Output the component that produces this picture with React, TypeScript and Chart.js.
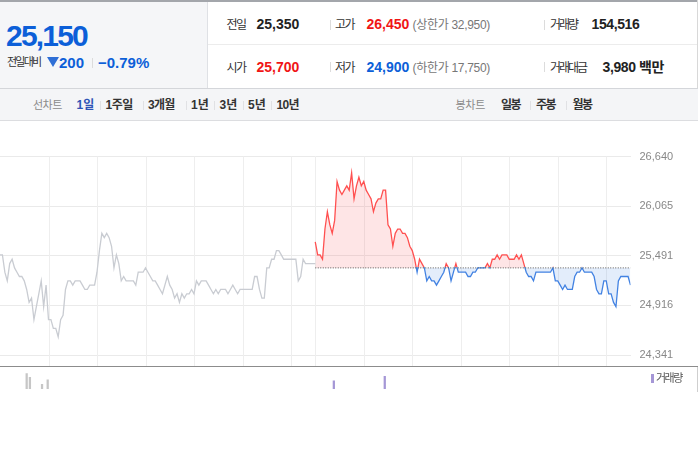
import React, { useEffect, useRef } from "react";
import { Chart, registerables } from "chart.js";

Chart.register(...registerables);

// ---------- data ----------
const prevClose = 25350;
const stepMinutes = 3; // sampling step of the price series
const sessionMinutes = 390; // 09:00 - 15:30

// previous session (grey), one value every 3 minutes from 09:00
const prevDayPrices = [
  25500, 25500, 25300, 25200, 25400, 25450, 25350, 25300, 25250, 25250,
  25200, 25100, 24950, 25000, 24750, 24900, 25050, 25200, 24900, 25150,
  24750, 24750, 24650, 24650, 24550, 24750, 24800, 25100, 25200, 25200,
  25150, 25200, 25200, 25200, 25150, 25100, 25100, 25150, 25150, 25150,
  25300, 25550, 25750, 25700, 25750, 25700, 25600, 25350, 25500, 25400,
  25200, 25250, 25200, 25200, 25200, 25200, 25150, 25300, 25300, 25300,
  25350, 25300, 25250, 25200, 25200, 25150, 25100, 25050, 25150, 25250,
  25150, 25100, 25000, 25050, 24950, 25050, 25000, 25050, 25050, 25100,
  25050, 25200, 25150, 25200, 25200, 25200, 25150, 25100, 25050, 25100,
  25050, 25100, 25100, 25100, 25050, 25100, 25150, 25100, 25050, 25100,
  25100, 25100, 25100, 25100, 25100, 25250, 25250, 25100, 25000, 25000,
  25350, 25350, 25450, 25450, 25550, 25550, 25500, 25450, 25450, 25450,
  25450, 25450, 25450, 25200, 25250, 25450, 25400, 25400, 25400, 25400, 25400,
];

// today's session, one value every 3 minutes from 09:00
const todayPrices = [
  25650, 25500, 25500, 25450, 25800, 26000, 25850, 25750, 25900, 26350,
  26250, 26200, 26250, 26300, 26250, 26450, 26150, 26300, 26400, 26300,
  26350, 26250, 26200, 26150, 26000, 26100, 26150, 26150, 26250, 26250,
  25850, 25800, 25600, 25750, 25800, 25800, 25750, 25750, 25700, 25600,
  25550, 25450, 25300, 25450, 25400, 25350, 25200, 25250, 25200, 25200,
  25150, 25200, 25250, 25300, 25400, 25350, 25200, 25300, 25400, 25300,
  25300, 25300, 25300, 25250, 25250, 25300, 25300, 25350, 25350, 25350,
  25350, 25400, 25350, 25450, 25450, 25500, 25450, 25500, 25500, 25500,
  25450, 25450, 25450, 25500, 25450, 25500, 25400, 25300, 25250, 25250,
  25200, 25300, 25300, 25300, 25300, 25300, 25300, 25300, 25350, 25200,
  25200, 25150, 25100, 25150, 25100, 25100, 25100, 25250, 25300, 25300,
  25350, 25300, 25300, 25300, 25300, 25250, 25100, 25050, 25050, 25200,
  25200, 25050, 25050, 24950, 24900, 25200, 25250, 25250, 25250, 25250, 25150,
];

const priceTicks = [24341, 24916, 25491, 26065, 26640];
const hourTicks = [60, 120, 180, 240, 300, 360, 390, 450, 510, 570, 630, 690, 750];

// volume spikes (minute from previous session's open, shares)
const prevDayVolumeMinutes = [33, 37, 52, 59];
const prevDayVolumes = [4050, 3100, 1200, 2400];
const todayVolumeMinutes = [413, 476];
const todayVolumes = [2150, 3350];

// ---------- styles ----------
const FONT = '"Liberation Sans", Arial, "Noto Sans CJK KR", sans-serif';
const RED = "#ff5050";
const BLUE = "#4282e2";
const TXT_BLUE = "#0c5fd8";
const TXT_RED = "#f01515";

function Txt(props: {
  x: number;
  base: number;
  size: number;
  color?: string;
  bold?: boolean;
  ls?: number;
  children: React.ReactNode;
}) {
  const { x, base, size, color = "#333", bold = false, ls = 0, children } = props;
  return (
    <span
      style={{
        position: "absolute",
        left: x,
        top: base - 0.8465 * size,
        fontSize: size,
        lineHeight: `${size}px`,
        fontWeight: bold ? 700 : 400,
        color,
        letterSpacing: ls,
        whiteSpace: "nowrap",
        fontFamily: FONT,
      }}
    >
      {children}
    </span>
  );
}

function Sep(props: { x: number; top: number; h?: number; color?: string }) {
  return (
    <div
      style={{
        position: "absolute",
        left: props.x,
        top: props.top,
        width: 1,
        height: props.h ?? 10,
        background: props.color ?? "#dcdcdc",
      }}
    />
  );
}

const hourGrid = {
  id: "hourGrid",
  beforeDatasetsDraw(chart: any) {
    const { ctx, chartArea, scales } = chart;
    ctx.save();
    ctx.strokeStyle = "#eeeeee";
    ctx.lineWidth = 1;
    hourTicks.forEach((v) => {
      const x = Math.round(scales.x.getPixelForValue(v)) + 0.5;
      ctx.beginPath();
      ctx.moveTo(x, chartArea.top);
      ctx.lineTo(x, chartArea.bottom);
      ctx.stroke();
    });
    ctx.restore();
  },
};

export default function App() {
  const priceRef = useRef<HTMLCanvasElement>(null);
  const volRef = useRef<HTMLCanvasElement>(null);

  useEffect(() => {
    const prevData = prevDayPrices.map((y, i) => ({ x: i * stepMinutes, y }));
    const todayData = todayPrices.map((y, i) => ({ x: sessionMinutes + i * stepMinutes, y }));
    const baseData = [
      { x: sessionMinutes, y: prevClose },
      { x: sessionMinutes * 2, y: prevClose },
    ];

    const lineColor = (c: any) => {
      const chart = c.chart;
      const { chartArea, scales } = chart;
      if (!chartArea || !scales.y) return RED;
      const y0 = scales.y.getPixelForValue(prevClose) - 0.7;
      const g = chart.ctx.createLinearGradient(0, chartArea.top, 0, chartArea.bottom);
      let s = (y0 - chartArea.top) / (chartArea.bottom - chartArea.top);
      s = Math.min(Math.max(s, 0), 1);
      g.addColorStop(0, RED);
      g.addColorStop(s, RED);
      g.addColorStop(s, BLUE);
      g.addColorStop(1, BLUE);
      return g;
    };

    const priceChart = new Chart(priceRef.current!, {
      type: "line",
      data: {
        datasets: [
          {
            data: baseData,
            borderColor: "#555",
            borderWidth: 1,
            borderDash: [1, 1.5],
            pointRadius: 0,
            fill: false,
          },
          {
            data: todayData,
            borderColor: lineColor,
            borderWidth: 1.3,
            pointRadius: 0,
            tension: 0,
            fill: {
              target: { value: prevClose },
              above: "rgba(250, 80, 90, 0.15)",
              below: "rgba(60, 130, 230, 0.14)",
            },
          },
          {
            data: prevData,
            borderColor: "#c9ccd2",
            borderWidth: 1.3,
            pointRadius: 0,
            tension: 0,
            fill: false,
          },
        ],
      },
      options: {
        responsive: false,
        animation: false,
        events: [],
        layout: { autoPadding: false, padding: { top: 35.5, bottom: 1, left: 0, right: 0 } },
        plugins: { legend: { display: false }, tooltip: { enabled: false } },
        scales: {
          x: {
            type: "linear",
            min: 0,
            max: sessionMinutes * 2,
            display: false,
          },
          y: {
            type: "linear",
            position: "right",
            min: 24213.6,
            max: 26640,
            afterBuildTicks: (s: any) => {
              s.ticks = priceTicks.map((v) => ({ value: v }));
            },
            afterFit: (s: any) => {
              s.width = 69.5;
              s.paddingTop = 0;
              s.paddingBottom = 0;
            },
            ticks: {
              padding: 9,
              color: "#888",
              font: { family: FONT, size: 11 },
              callback: (v: any) => Number(v).toLocaleString("en-US"),
            },
            grid: { color: "#eaeaea", drawTicks: false, lineWidth: 1 },
            border: { display: false },
          },
        },
      },
      plugins: [hourGrid],
    } as any);

    const volData = [
      ...prevDayVolumeMinutes.map((m, i) => ({ x: m, y: prevDayVolumes[i] })),
      ...todayVolumeMinutes.map((m, i) => ({ x: m, y: todayVolumes[i] })),
    ];

    const volChart = new Chart(volRef.current!, {
      type: "bar",
      data: {
        datasets: [
          {
            data: volData,
            backgroundColor: (c: any) =>
              c.raw && c.raw.x >= sessionMinutes ? "#a597d6" : "#c6c6c6",
            barThickness: 1.6,
            borderWidth: 0,
          },
        ],
      },
      options: {
        responsive: false,
        animation: false,
        events: [],
        layout: { autoPadding: false, padding: { top: 3, bottom: 3, left: 0, right: 69.5 } },
        plugins: { legend: { display: false }, tooltip: { enabled: false } },
        scales: {
          x: {
            type: "linear",
            min: 0,
            max: sessionMinutes * 2,
            offset: false,
            display: false,
          },
          y: { type: "linear", min: 0, max: 5000, display: false },
        },
      },
    } as any);

    return () => {
      priceChart.destroy();
      volChart.destroy();
    };
  }, []);

  return (
    <div
      style={{
        position: "fixed",
        left: 0,
        top: 0,
        width: 700,
        height: 450,
        background: "#fff",
        fontFamily: FONT,
        overflow: "hidden",
      }}
    >
      {/* header */}
      <div style={{ position: "absolute", left: 0, top: 0, width: 698, height: 2, background: "#a3a6ab" }} />
      <div style={{ position: "absolute", left: 0, top: 2, width: 207, height: 86, background: "#f5f6f8" }} />
      <Sep x={207} top={2} h={86} color="#dfe1e5" />
      <div style={{ position: "absolute", left: 208, top: 44, width: 489, height: 1, background: "#ececec" }} />
      <Sep x={697} top={0} h={88} color="#d8d8d8" />

      <Txt x={6} base={46.7} size={30} bold color={TXT_BLUE} ls={-1.8}>25,150</Txt>
      <Txt x={7} base={66.3} size={11} color="#333" ls={-1.8}>전일대비</Txt>
      <div
        style={{
          position: "absolute",
          left: 47,
          top: 57,
          width: 0,
          height: 0,
          borderLeft: "6px solid transparent",
          borderRight: "6px solid transparent",
          borderTop: "10px solid #2f6fd6",
        }}
      />
      <Txt x={59} base={67.3} size={15} bold color={TXT_BLUE}>200</Txt>
      <Sep x={92} top={58} h={10} />
      <Txt x={98} base={67.3} size={15} bold color={TXT_BLUE}>−0.79%</Txt>

      {/* row 1 */}
      <Txt x={226.5} base={29.3} size={12} ls={-1.5}>전일</Txt>
      <Txt x={256.5} base={29.3} size={14} bold color="#222">25,350</Txt>
      <Sep x={330} top={20} />
      <Txt x={335} base={29.3} size={12} ls={-1.5}>고가</Txt>
      <Txt x={366.5} base={29.3} size={14} bold color={TXT_RED}>26,450</Txt>
      <Txt x={412.5} base={29.3} size={12} color="#777" ls={-0.3}>(상한가 32,950)</Txt>
      <Sep x={544} top={20} />
      <Txt x={550} base={29.3} size={12} ls={-2}>거래량</Txt>
      <Txt x={591.5} base={29.3} size={14} bold color="#222" ls={-0.4}>154,516</Txt>

      {/* row 2 */}
      <Txt x={226.5} base={71.7} size={12} ls={-1.5}>시가</Txt>
      <Txt x={256.5} base={71.7} size={14} bold color={TXT_RED}>25,700</Txt>
      <Sep x={330} top={62} />
      <Txt x={335} base={71.7} size={12} ls={-1.5}>저가</Txt>
      <Txt x={366.5} base={71.7} size={14} bold color={TXT_BLUE}>24,900</Txt>
      <Txt x={412.5} base={71.7} size={12} color="#777" ls={-0.3}>(하한가 17,750)</Txt>
      <Sep x={544} top={62} />
      <Txt x={550} base={71.7} size={12} ls={-2}>거래대금</Txt>
      <Txt x={602.5} base={71.7} size={14} bold color="#222" ls={-0.4}>3,980 백만</Txt>

      {/* tab bar */}
      <div
        style={{
          position: "absolute",
          left: 0,
          top: 88,
          width: 698,
          height: 31,
          background: "#f4f5f7",
          borderTop: "1px solid #d4d6da",
          borderBottom: "1px solid #dcdde0",
        }}
      />
      <Txt x={33} base={109.5} size={11} color="#8a8a8a" ls={-0.5}>선차트</Txt>
      <Txt x={76.5} base={109.5} size={12} bold color="#2d54b6">1일</Txt>
      <Sep x={100} top={101} h={9} color="#e0e1e4" />
      <Txt x={105.5} base={109.5} size={12} bold color="#333" ls={-0.5}>1주일</Txt>
      <Sep x={142.5} top={101} h={9} color="#e0e1e4" />
      <Txt x={148} base={109.5} size={12} bold color="#333" ls={-0.7}>3개월</Txt>
      <Sep x={185.5} top={101} h={9} color="#e0e1e4" />
      <Txt x={191} base={109.5} size={12} bold color="#333">1년</Txt>
      <Sep x={214} top={101} h={9} color="#e0e1e4" />
      <Txt x={219.5} base={109.5} size={12} bold color="#333">3년</Txt>
      <Sep x={242.5} top={101} h={9} color="#e0e1e4" />
      <Txt x={248} base={109.5} size={12} bold color="#333">5년</Txt>
      <Sep x={270.5} top={101} h={9} color="#e0e1e4" />
      <Txt x={276.5} base={109.5} size={12} bold color="#333" ls={-0.7}>10년</Txt>

      <Txt x={455.5} base={109.5} size={11} color="#8a8a8a" ls={-0.3}>봉차트</Txt>
      <Txt x={501} base={109.5} size={12} bold color="#333" ls={-1.5}>일봉</Txt>
      <Sep x={530} top={101} h={9} color="#e0e1e4" />
      <Txt x={536} base={109.5} size={12} bold color="#333" ls={-1.5}>주봉</Txt>
      <Sep x={566} top={101} h={9} color="#e0e1e4" />
      <Txt x={572.5} base={109.5} size={12} bold color="#333" ls={-1.5}>월봉</Txt>

      {/* price chart */}
      <canvas
        ref={priceRef}
        width={700}
        height={246}
        style={{ position: "absolute", left: 0, top: 121, width: 700, height: 246 }}
      />
      <div style={{ position: "absolute", left: 0, top: 366, width: 698, height: 1, background: "#8c8c8c" }} />

      {/* volume chart */}
      <canvas
        ref={volRef}
        width={700}
        height={25}
        style={{ position: "absolute", left: 0, top: 367, width: 700, height: 25 }}
      />
      <Sep x={697} top={367} h={25} color="#cfcfcf" />
      <div style={{ position: "absolute", left: 651, top: 374, width: 3, height: 9, background: "#a597d6" }} />
      <Txt x={656} base={382.5} size={11} color="#555" ls={-1.5}>거래량</Txt>
    </div>
  );
}
